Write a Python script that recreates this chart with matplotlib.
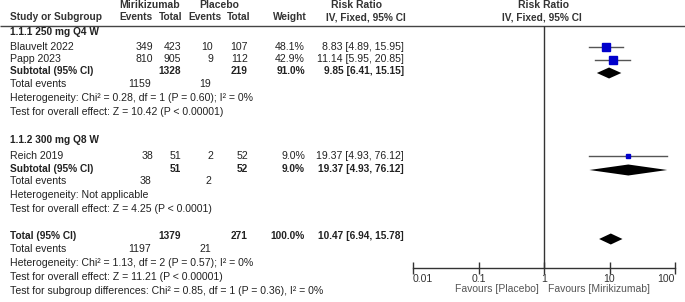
import matplotlib
matplotlib.use("Agg")
import matplotlib.pyplot as plt
import numpy as np

plt.rcParams['font.family'] = ['Liberation Sans', 'DejaVu Sans']

# ---- data ----
studies = ["Blauvelt 2022", "Papp 2023", "Reich 2019"]
mir_events = [349, 810, 38]
mir_total = [423, 905, 51]
pla_events = [10, 9, 2]
pla_total = [107, 112, 52]
weights = [48.1, 42.9, 9.0]
rr = [8.83, 11.14, 19.37]
rr_lo = [4.89, 5.95, 4.93]
rr_hi = [15.95, 20.85, 76.12]

sub_labels = ["1.1.1 250 mg Q4 W", "1.1.2 300 mg Q8 W"]
sub_mir_total = [1328, 51]
sub_pla_total = [219, 52]
sub_weight = [91.0, 9.0]
sub_rr = [9.85, 19.37]
sub_lo = [6.41, 4.93]
sub_hi = [15.15, 76.12]
sub_mir_events = [1159, 38]
sub_pla_events = [19, 2]
sub_het = ["Heterogeneity: Chi² = 0.28, df = 1 (P = 0.60); I² = 0%",
           "Heterogeneity: Not applicable"]
sub_test = ["Test for overall effect: Z = 10.42 (P < 0.00001)",
            "Test for overall effect: Z = 4.25 (P < 0.0001)"]

tot_mir_total, tot_pla_total, tot_weight = 1379, 271, 100.0
tot_rr, tot_lo, tot_hi = 10.47, 6.94, 15.78
tot_mir_events, tot_pla_events = 1197, 21
tot_het = "Heterogeneity: Chi² = 1.13, df = 2 (P = 0.57); I² = 0%"
tot_test = "Test for overall effect: Z = 11.21 (P < 0.00001)"
subgroup_test = "Test for subgroup differences: Chi² = 0.85, df = 1 (P = 0.36), I² = 0%"

xticks = [0.01, 0.1, 1, 10, 100]
xtick_labels = ["0.01", "0.1", "1", "10", "100"]

# ---- layout (pixels) ----
W, H = 685, 302
study_groups = [[0, 1], [2]]
study_y = [46.5, 59.5, 156]
sub_y = [71.5, 168.5]
sub_head_y = [32, 140]
sub_ev_y = [84, 181]
sub_het_y = [98, 194.5]
sub_test_y = [112, 208.5]
tot_y, tot_ev_y, tot_het_y, tot_test_y, sg_y = 236, 249, 262.5, 276.5, 290.5

FS = 7.6
FSB = 7.3
TC = '#222222'

fig = plt.figure(figsize=(W / 100, H / 100), dpi=100)
tax = fig.add_axes([0, 0, 1, 1])
tax.set_xlim(0, W)
tax.set_ylim(H, 0)
tax.axis('off')

def t(x, y, s, ha='left', bold=False, color=TC, size=None):
    if size is None:
        size = FSB if bold else FS
    tax.text(x, y, s, ha=ha, va='center', fontsize=size,
             fontweight='bold' if bold else 'normal', color=color)

# column right edges
X_LABEL, X_ME, X_MT, X_PE, X_PT, X_W, X_RR = 10, 153, 181, 213, 248, 305, 404

# headers
HB = '#333333'
t(150, 5, "Mirikizumab", ha='center', bold=True, color=HB, size=7.5)
t(219, 5, "Placebo", ha='center', bold=True, color=HB, size=7.5)
t(357, 5, "Risk Ratio", ha='center', bold=True, color=HB, size=7.5)
t(544, 5, "Risk Ratio", ha='center', bold=True, color=HB, size=7.5)
t(X_LABEL, 17.5, "Study or Subgroup", bold=True, color=HB)
t(153, 17.5, "Events", ha='right', bold=True, color=HB)
t(182, 17.5, "Total", ha='right', bold=True, color=HB)
t(222, 17.5, "Events", ha='right', bold=True, color=HB)
t(250, 17.5, "Total", ha='right', bold=True, color=HB)
t(307, 17.5, "Weight", ha='right', bold=True, color=HB)
t(366, 17.5, "IV, Fixed, 95% CI", ha='center', bold=True, color=HB)
t(542, 17.5, "IV, Fixed, 95% CI", ha='center', bold=True, color=HB)
tax.plot([0, W], [26, 26], color='#444444', lw=1.0, solid_capstyle='butt')

def rr_txt(v, lo, hi):
    return f"{v:.2f} [{lo:.2f}, {hi:.2f}]"

for g, idx in enumerate(study_groups):
    t(X_LABEL, sub_head_y[g], sub_labels[g], bold=True)
    for i in idx:
        y = study_y[i]
        t(X_LABEL, y, studies[i])
        t(X_ME, y, str(mir_events[i]), ha='right')
        t(X_MT, y, str(mir_total[i]), ha='right')
        t(X_PE, y, str(pla_events[i]), ha='right')
        t(X_PT, y, str(pla_total[i]), ha='right')
        t(X_W, y, f"{weights[i]:.1f}%", ha='right')
        t(X_RR, y, rr_txt(rr[i], rr_lo[i], rr_hi[i]), ha='right')
    y = sub_y[g]
    t(X_LABEL, y, "Subtotal (95% CI)", bold=True)
    t(X_MT, y, str(sub_mir_total[g]), ha='right', bold=True)
    t(X_PT, y, str(sub_pla_total[g]), ha='right', bold=True)
    t(X_W, y, f"{sub_weight[g]:.1f}%", ha='right', bold=True)
    t(X_RR, y, rr_txt(sub_rr[g], sub_lo[g], sub_hi[g]), ha='right', bold=True)
    t(X_LABEL, sub_ev_y[g], "Total events")
    t(X_ME - 2, sub_ev_y[g], str(sub_mir_events[g]), ha='right')
    t(X_PE - 2, sub_ev_y[g], str(sub_pla_events[g]), ha='right')
    t(X_LABEL, sub_het_y[g], sub_het[g])
    t(X_LABEL, sub_test_y[g], sub_test[g])

t(X_LABEL, tot_y, "Total (95% CI)", bold=True)
t(X_MT, tot_y, str(tot_mir_total), ha='right', bold=True)
t(X_PT, tot_y, str(tot_pla_total), ha='right', bold=True)
t(X_W, tot_y, f"{tot_weight:.1f}%", ha='right', bold=True)
t(X_RR, tot_y, rr_txt(tot_rr, tot_lo, tot_hi), ha='right', bold=True)
t(X_LABEL, tot_ev_y, "Total events")
t(X_ME - 2, tot_ev_y, str(tot_mir_events), ha='right')
t(X_PE - 2, tot_ev_y, str(tot_pla_events), ha='right')
t(X_LABEL, tot_het_y, tot_het)
t(X_LABEL, tot_test_y, tot_test)
t(X_LABEL, sg_y, subgroup_test)

# ---- forest axes ----
AX_L, AX_R, AX_TOP, AX_BOT = 413, 675, 26, 268
fax = fig.add_axes([AX_L / W, 1 - AX_BOT / H, (AX_R - AX_L) / W, (AX_BOT - AX_TOP) / H])
fax.set_xscale('log')
fax.set_xlim(xticks[0], xticks[-1])
fax.set_ylim(AX_BOT, AX_TOP)
fax.patch.set_alpha(0)
for s in ['top', 'right', 'left']:
    fax.spines[s].set_visible(False)
fax.spines['bottom'].set_color('#333333')
fax.spines['bottom'].set_linewidth(1.0)
fax.set_yticks([])
fax.set_xticks(xticks)
fax.set_xticklabels(xtick_labels)
fax.minorticks_off()
fax.tick_params(axis='x', direction='inout', length=8, width=1, color='#333333',
                labelsize=FS, labelcolor='#333333', pad=0)
labs = fax.get_xticklabels()
labs[0].set_horizontalalignment('left')
labs[-1].set_horizontalalignment('right')
fax.axvline(1, color='#333333', lw=1.0)

for i in range(len(studies)):
    y = study_y[i]
    fax.plot([rr_lo[i], rr_hi[i]], [y, y], color='#555555', lw=1.0, zorder=2)
    ms = 5.9 * np.sqrt(weights[i] / weights[0])
    fax.plot([rr[i]], [y], marker='s', ms=ms, color='#0000CC', mec='#0000CC', zorder=3)

def diamond(lo, mid, hi, y, h=5.5):
    fax.fill([lo, mid, hi, mid], [y, y - h, y, y + h], color='black', lw=0, zorder=3)

for g in range(len(sub_rr)):
    diamond(sub_lo[g], sub_rr[g], sub_hi[g], sub_y[g] + 1.5)
diamond(tot_lo, tot_rr, tot_hi, tot_y + 3)

t(539, 289, "Favours [Placebo]", ha='right', color='#555555', size=7.5)
t(548, 289, "Favours [Mirikizumab]", ha='left', color='#555555', size=7.5)

fig.savefig("out.png", dpi=100)
